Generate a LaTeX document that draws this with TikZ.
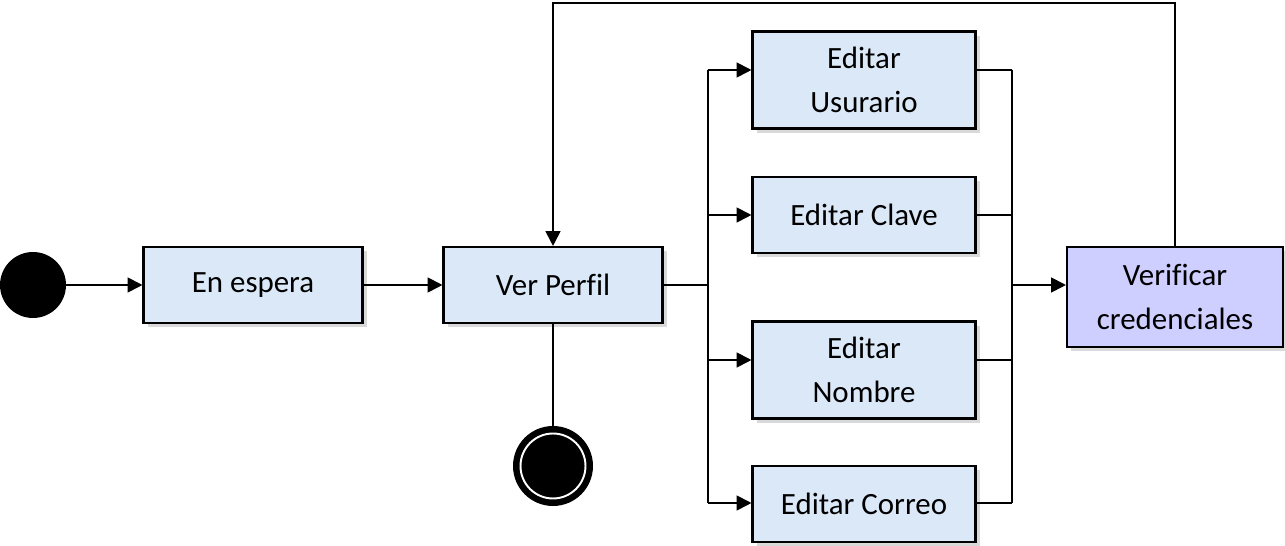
\documentclass[tikz,border=0pt]{standalone}
\usepackage{fontspec}
\setmainfont{Carlito}[Ligatures=NoCommon]
\usetikzlibrary{positioning,arrows.meta,shadows}

\definecolor{stateblue}{RGB}{218,232,247}
\definecolor{checkviolet}{RGB}{206,206,255}

\begin{document}
\begin{tikzpicture}[
  x=0.02cm, y=-0.02cm,
  font=\fontsize{17.6}{25}\selectfont,
  state/.style={
    draw, line width=1.2pt, rectangle,
    minimum width=4.38cm, minimum height=1.52cm,
    align=center, fill=stateblue,
    drop shadow={shadow xshift=2.5pt, shadow yshift=-2.5pt, opacity=0.3},
  },
  tall/.style={minimum height=1.94cm},
  check/.style={state, fill=checkviolet, minimum width=4.32cm, minimum height=2cm},
  startstate/.style={circle, fill=black, minimum size=1.32cm, inner sep=0pt},
  endstate/.style={
    circle, fill=black, minimum size=1.6cm, inner sep=0pt,
    path picture={\draw[white, line width=1.1pt]
      (path picture bounding box.center) circle (0.65cm);},
  },
  flow/.style={-{Triangle[length=8.5pt,width=8.5pt]}, line width=1.1pt},
  line/.style={line width=1.1pt},
]
\useasboundingbox (0,0) rectangle (1285,546);

\node[startstate] (start) at (33,285) {};
\node[state] (wait) at (253,285) {En espera};
\node[state] (perfil) at (553,285) {Ver Perfil};
\node[endstate] (fin) at (553,466) {};

\node[state, tall, minimum width=4.46cm] (usu) at (864,80) {Editar\\Usurario};
\node[state, minimum width=4.46cm] (clave) at (864,215) {Editar Clave};
\node[state, tall, minimum width=4.46cm] (nombre) at (864,370) {Editar\\Nombre};
\node[state, minimum width=4.46cm] (correo) at (864,504) {Editar Correo};

\node[check] (verif) at (1175,297) {Verificar\\credenciales};

% fork / join points
\coordinate (fork) at (708,285);
\coordinate (forkTop) at (708,70);
\coordinate (forkN) at (708,360);
\coordinate (forkBot) at (708,503);
\coordinate (join) at (1012,285);
\coordinate (joinTop) at (1012,70);
\coordinate (joinN) at (1012,360);
\coordinate (joinBot) at (1012,503);
\coordinate (back) at (860,3);

\draw[flow] (start) -- (wait);
\draw[flow] (wait) -- (perfil);
\draw[line] (perfil) -- (fin);

\draw[line] (perfil.east) -- (fork);
\draw[line] (forkTop) -- (forkBot);
\draw[flow] (forkTop) -- (forkTop -| usu.west);
\draw[flow] (fork |- clave) -- (clave);
\draw[flow] (forkN) -- (forkN -| nombre.west);
\draw[flow] (forkBot) -- (forkBot -| correo.west);

\draw[line] (joinTop -| usu.east) -- (joinTop);
\draw[line] (clave) -- (join |- clave);
\draw[line] (joinN -| nombre.east) -- (joinN);
\draw[line] (joinBot -| correo.east) -- (joinBot);
\draw[line] (joinTop) -- (joinBot);
\draw[flow] (join) -- (join -| verif.west);

\draw[flow] (verif.north) |- (back) -| (perfil.north);

\end{tikzpicture}
\end{document}
